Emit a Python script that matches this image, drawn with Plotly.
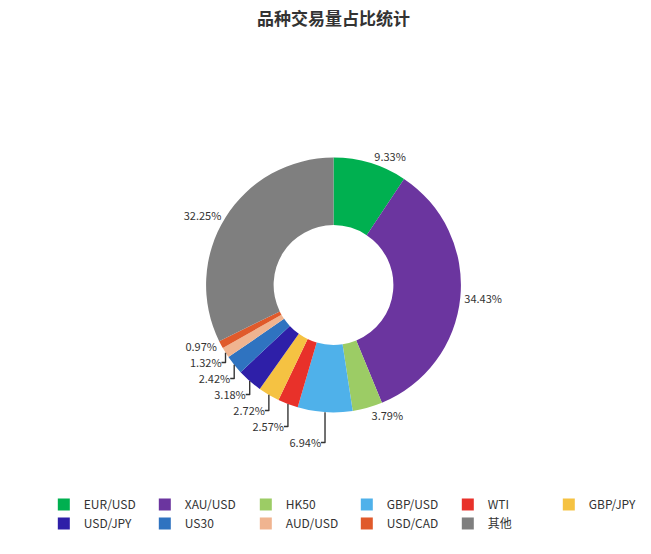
import plotly.graph_objects as go

labels = ["EUR/USD","XAU/USD","HK50","GBP/USD","WTI","GBP/JPY","USD/JPY","US30","AUD/USD","USD/CAD","其他"]
values = [9.33,34.43,3.79,6.94,2.57,2.72,3.18,2.42,1.32,0.97,32.25]
colors = ["#00b050","#6b359f","#9ccc65","#4fb1ea","#e8312a","#f5c242","#2e1fa8","#2f73c0","#f0b490","#e05a2b","#7f7f7f"]

fig = go.Figure(go.Pie(
    labels=labels, values=values, sort=False, direction="clockwise", rotation=0,
    hole=0.47, marker=dict(colors=colors, line=dict(color="white", width=0)),
    text=[f"{v:.2f}%" for v in values], textinfo="text", textposition="outside",
    textfont=dict(size=11, color="#333"),
    domain=dict(x=[0.2, 0.8], y=[0.27, 0.73]),
))
fig.update_layout(
    width=651, height=554, margin=dict(l=0, r=0, t=0, b=0),
    paper_bgcolor="white", font=dict(family="Noto Sans CJK SC, sans-serif"),
    title=dict(text="<b>品种交易量占比统计</b>", x=0.5, y=0.99, yanchor="top", xanchor="center",
               font=dict(size=17, color="#333")),
    legend=dict(orientation="h", x=0.055, y=0.13, xanchor="left", yanchor="top",
                entrywidth=56, itemwidth=30, font=dict(size=12, color="#333"), traceorder="normal",
                tracegroupgap=0),
)
fig.write_html("out.html")
